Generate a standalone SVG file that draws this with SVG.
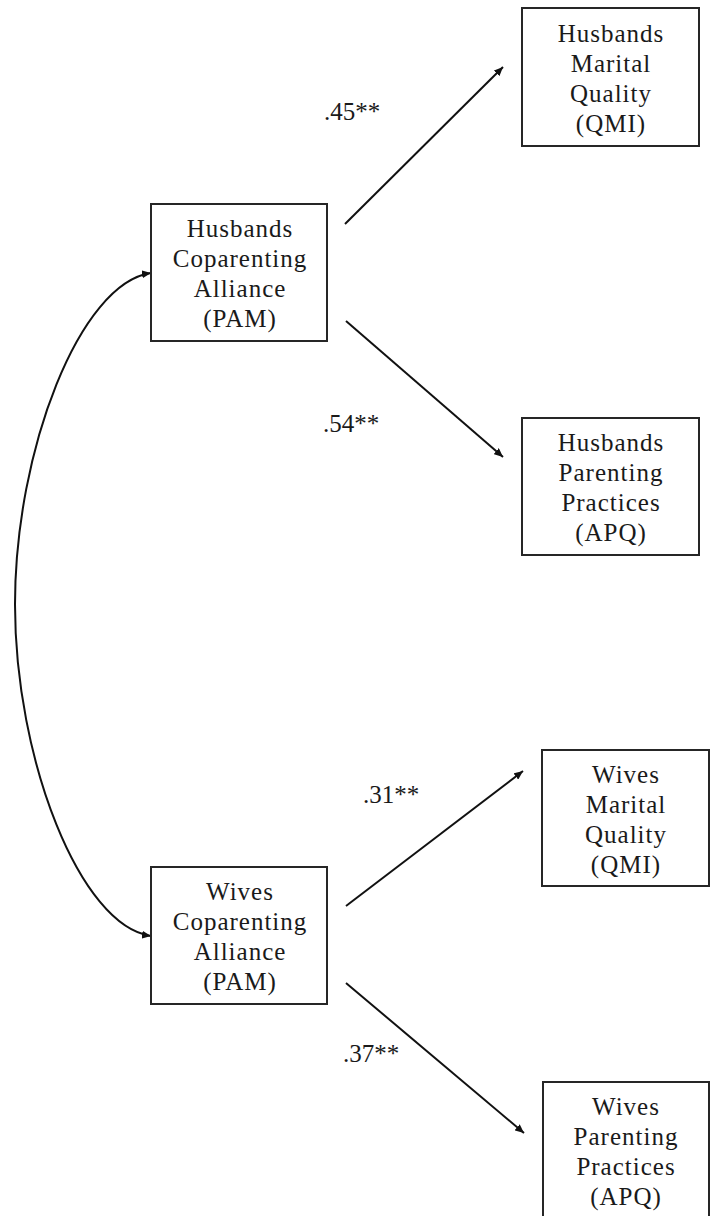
<svg xmlns="http://www.w3.org/2000/svg" width="710" height="1216" viewBox="0 0 710 1216">
<style>
.box{fill:#fff;stroke:#262626;stroke-width:2}
.t{font-family:"Liberation Serif","Times New Roman",serif;font-size:25px;fill:#1a1a1a;text-anchor:middle;letter-spacing:1px}
.lab{font-family:"Liberation Serif","Times New Roman",serif;font-size:25px;fill:#1a1a1a}
.c{fill:none;stroke:#111;stroke-width:2}
</style>
<defs>
<marker id="ah" markerWidth="10" markerHeight="8" refX="9" refY="4" orient="auto" markerUnits="userSpaceOnUse">
<path d="M0,0 L9,4 L0,8 Z" fill="#111"/>
</marker>
<marker id="ahs" markerWidth="10" markerHeight="8" refX="9" refY="4" orient="auto-start-reverse" markerUnits="userSpaceOnUse">
<path d="M0,0 L9,4 L0,8 Z" fill="#111"/>
</marker>
</defs>
<rect width="710" height="1216" fill="#fff"/>
<g id="connectors">
<path class="c" d="M151,273 C80,283 15,450 15,604.5 C15,759 80,926 151,936" marker-start="url(#ahs)" marker-end="url(#ah)"/>
<line class="c" x1="345" y1="224" x2="503" y2="67" marker-end="url(#ah)"/>
<line class="c" x1="346" y1="321" x2="503" y2="457" marker-end="url(#ah)"/>
<line class="c" x1="346" y1="906" x2="523" y2="771" marker-end="url(#ah)"/>
<line class="c" x1="346" y1="983" x2="524" y2="1133" marker-end="url(#ah)"/>
</g>
<g id="labels">
<text class="lab" x="324" y="120">.45**</text>
<text class="lab" x="323" y="432">.54**</text>
<text class="lab" x="363" y="803">.31**</text>
<text class="lab" x="343" y="1062">.37**</text>
</g>
<g id="hca">
<rect class="box" x="151" y="204" width="176" height="137"/>
<text class="t" x="240" y="237">Husbands</text>
<text class="t" x="240" y="267">Coparenting</text>
<text class="t" x="240" y="297">Alliance</text>
<text class="t" x="240" y="327">(PAM)</text>
</g>
<g id="hmq">
<rect class="box" x="522" y="8" width="177" height="138"/>
<text class="t" x="611" y="42">Husbands</text>
<text class="t" x="611" y="72">Marital</text>
<text class="t" x="611" y="102">Quality</text>
<text class="t" x="611" y="132">(QMI)</text>
</g>
<g id="hpp">
<rect class="box" x="522" y="418" width="177" height="137"/>
<text class="t" x="611" y="451">Husbands</text>
<text class="t" x="611" y="481">Parenting</text>
<text class="t" x="611" y="511">Practices</text>
<text class="t" x="611" y="541">(APQ)</text>
</g>
<g id="wca">
<rect class="box" x="151" y="867" width="176" height="137"/>
<text class="t" x="240" y="900">Wives</text>
<text class="t" x="240" y="930">Coparenting</text>
<text class="t" x="240" y="960">Alliance</text>
<text class="t" x="240" y="990">(PAM)</text>
</g>
<g id="wmq">
<rect class="box" x="542" y="750" width="167" height="136"/>
<text class="t" x="626" y="783">Wives</text>
<text class="t" x="626" y="813">Marital</text>
<text class="t" x="626" y="843">Quality</text>
<text class="t" x="626" y="873">(QMI)</text>
</g>
<g id="wpp">
<rect class="box" x="543" y="1082" width="166" height="140"/>
<text class="t" x="626" y="1115">Wives</text>
<text class="t" x="626" y="1145">Parenting</text>
<text class="t" x="626" y="1175">Practices</text>
<text class="t" x="626" y="1205">(APQ)</text>
</g>
</svg>
